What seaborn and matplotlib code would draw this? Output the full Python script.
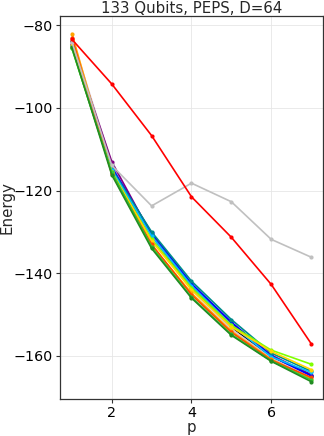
import matplotlib
matplotlib.use("Agg")
import matplotlib.pyplot as plt
import pandas as pd
import seaborn as sns

p = [1, 2, 3, 4, 5, 6, 7]
series_names: list[str] = [
    "black", "thistle", "purple", "blue", "darkcyan", "deepskyblue",
    "chartreuse", "gold", "orange", "orangered", "limegreen", "forestgreen",
    "silver", "red",
]
energies: list[list[float]] = [
    [-83.8, -114.5, -131.5, -143.5, -153.0, -160.3, -164.8],
    [-83.0, -113.5, -131.5, -144.0, -153.5, -160.5, -165.0],
    [-84.5, -113.0, -130.8, -143.0, -152.0, -159.8, -164.5],
    [-84.8, -114.3, -130.3, -142.5, -151.8, -160.0, -164.8],
    [-85.0, -114.8, -130.0, -141.9, -151.2, -159.3, -163.7],
    [-85.2, -115.0, -131.0, -143.0, -152.5, -160.2, -164.0],
    [-85.5, -115.6, -131.8, -143.5, -152.6, -158.6, -162.0],
    [-84.8, -115.4, -132.2, -144.0, -153.0, -158.9, -163.3],
    [-82.0, -115.8, -133.3, -144.8, -154.0, -160.8, -165.5],
    [-83.0, -116.0, -133.0, -145.2, -154.3, -161.0, -165.2],
    [-85.6, -115.5, -133.6, -145.8, -154.8, -161.2, -165.8],
    [-85.3, -116.2, -134.0, -146.0, -155.0, -161.3, -166.2],
    [-84.0, -113.9, -123.7, -118.2, -122.7, -131.8, -136.1],
    [-83.4, -94.2, -106.7, -121.5, -131.3, -142.7, -157.0],
]
title = "133 Qubits, PEPS, D=64"

rows = []
for name, values in zip(series_names, energies):
    for x, e in zip(p, values):
        rows.append({"p": x, "Energy": e, "run": name})
df = pd.DataFrame(rows)

sns.set_style("ticks")
plt.rcParams["font.family"] = ["DejaVu Sans"]
fig, ax = plt.subplots(figsize=(3.24, 4.36), dpi=100)
fig.subplots_adjust(left=0.185, right=0.997, top=0.963, bottom=0.085)

sns.lineplot(
    data=df, x="p", y="Energy", hue="run", hue_order=series_names,
    palette=series_names, marker="o", markersize=3, markeredgewidth=0,
    linewidth=1.2, legend=False, ax=ax, sort=False,
)
ax.grid(True, color="#e6e6e6", linewidth=0.6)
ax.set_axisbelow(True)
ax.set_xticks([2, 4, 6])
ax.set_yticks([-80, -100, -120, -140, -160])
ax.tick_params(labelsize=10.3, length=3, width=0.8, pad=2,
               colors="#333333", labelcolor="black")
for s in ax.spines.values():
    s.set_color("#333333")
    s.set_linewidth(0.9)
ax.set_title(title, fontsize=10.8, pad=2)
ax.set_xlabel("p", fontsize=10.8, labelpad=0)
ax.set_ylabel("Energy", fontsize=10.8)
ax.yaxis.set_label_coords(-0.172, 0.5)

fig.savefig("out.png", dpi=100)
